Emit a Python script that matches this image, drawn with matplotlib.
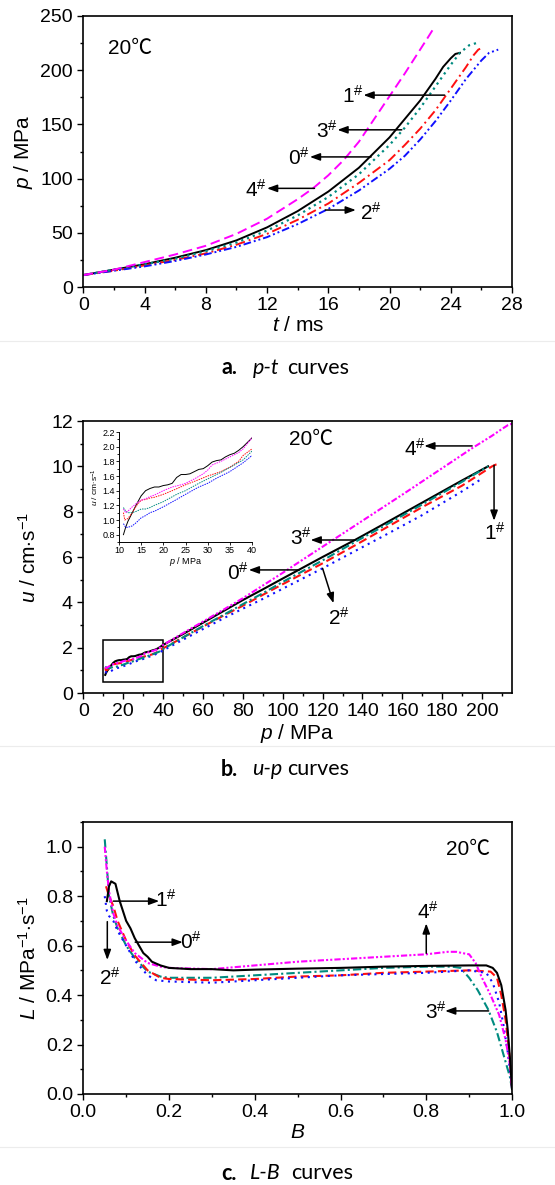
import matplotlib
matplotlib.use('Agg')
import matplotlib.pyplot as plt
from matplotlib.patches import Rectangle
from matplotlib.ticker import MultipleLocator

plt.rcParams['font.family'] = ['Liberation Sans Narrow', 'Liberation Sans', 'DejaVu Sans']
plt.rcParams['mathtext.fontset'] = 'custom'
plt.rcParams['mathtext.rm'] = 'Liberation Sans'
plt.rcParams['mathtext.it'] = 'Liberation Sans:italic'
plt.rcParams['mathtext.bf'] = 'Liberation Sans:bold'

# ---------------- data: panel a (p-t) ----------------
t_a0 = [0, 2, 4, 6, 8, 10, 12, 14, 16, 18, 20, 22, 23, 23.5, 24, 24.3, 24.6]
p_a0 = [11, 16, 21, 27, 34, 43, 55, 70, 88, 110, 138, 172, 192, 203, 211, 215, 216]
t_a1 = [0, 2, 4, 6, 8, 10, 12, 14, 16, 18, 20, 21, 22, 23, 24, 25, 25.5, 25.8, 26.1]
p_a1 = [11, 15, 20, 25, 31, 39, 49, 62, 77, 96, 117, 131, 146, 163, 183, 203, 214, 219, 221]
t_a2 = [0, 2, 4, 6, 8, 10, 12, 14, 16, 18, 20, 21, 22, 23, 24, 25, 26, 26.5, 27.1]
p_a2 = [11, 15, 19, 24, 30, 37, 46, 58, 72, 89, 109, 121, 136, 153, 172, 192, 209, 216, 219]
t_a3 = [0, 2, 4, 6, 8, 10, 12, 14, 16, 18, 20, 21, 22, 23, 24, 24.6, 25.2, 25.9]
p_a3 = [11, 16, 21, 26, 33, 41, 52, 66, 83, 104, 131, 147, 165, 185, 205, 216, 223, 226]
t_a4 = [0, 2, 4, 6, 8, 10, 12, 14, 15, 16, 17, 18, 19, 20, 21, 22, 22.5, 22.9]
p_a4 = [11, 16, 23, 30, 38, 49, 63, 81, 91, 103, 117, 134, 155, 176, 197, 219, 230, 239]

# ---------------- data: panel b (u-p) ----------------
p_b0 = [11, 11.5, 12, 13, 14, 15, 16, 17, 18, 19, 20, 21, 22, 23, 24, 25, 26, 27, 28, 29, 30,
        31, 32, 33, 34, 35, 36, 37, 38, 39, 40, 50, 60, 70, 80, 90, 100, 108, 120, 136, 150,
        170, 190, 203]
u_b0 = [0.8, 0.9, 0.98, 1.1, 1.22, 1.33, 1.4, 1.43, 1.45, 1.45, 1.47, 1.48, 1.5, 1.58, 1.62,
        1.62, 1.63, 1.66, 1.69, 1.7, 1.74, 1.79, 1.81, 1.82, 1.86, 1.89, 1.91, 1.95, 2.0, 2.06,
        2.12, 2.6, 3.1, 3.6, 4.1, 4.57, 5.05, 5.43, 6.0, 6.74, 7.42, 8.4, 9.38, 10.0]
p_b1 = [11, 11.3, 12, 13, 14, 15, 16, 17, 18, 20, 22, 25, 28, 30, 33, 35, 37, 38, 40, 50, 60,
        70, 80, 90, 100, 120, 136, 150, 170, 190, 202, 205, 207, 208]
u_b1 = [1.1, 1.0, 1.02, 1.1, 1.2, 1.27, 1.28, 1.3, 1.31, 1.35, 1.4, 1.48, 1.55, 1.6, 1.66,
        1.72, 1.8, 1.88, 1.97, 2.45, 2.93, 3.4, 3.85, 4.33, 4.8, 5.72, 6.5, 7.2, 8.2, 9.15,
        9.83, 10.0, 10.08, 10.1]
p_b2 = [11, 11.5, 12, 13, 14, 15, 16, 17, 18, 20, 23, 25, 28, 30, 32, 35, 38, 40, 50, 60, 70,
        80, 90, 100, 120, 136, 150, 170, 190, 200]
u_b2 = [0.95, 0.9, 0.9, 0.92, 0.97, 1.03, 1.06, 1.1, 1.12, 1.18, 1.28, 1.35, 1.45, 1.5, 1.57,
        1.66, 1.78, 1.88, 2.35, 2.82, 3.28, 3.72, 4.15, 4.6, 5.5, 6.25, 6.9, 7.85, 8.9, 9.46]
p_b3 = [11, 11.5, 12, 13, 14, 15, 16, 17, 18, 20, 23, 25, 28, 30, 33, 36, 38, 40, 50, 60, 70,
        80, 90, 100, 120, 136, 150, 170, 190, 203]
u_b3 = [1.17, 1.12, 1.1, 1.1, 1.12, 1.15, 1.15, 1.17, 1.2, 1.25, 1.35, 1.4, 1.5, 1.56, 1.65,
        1.75, 1.82, 1.94, 2.45, 2.95, 3.43, 3.92, 4.4, 4.9, 5.85, 6.65, 7.33, 8.32, 9.32, 10.0]
p_b4 = [11, 11.5, 12, 13, 14, 15, 16, 17, 18, 20, 22, 24, 25, 27, 29, 30, 31, 33, 35, 37, 38,
        40, 50, 60, 70, 80, 90, 100, 110, 125, 140, 160, 180, 195, 205, 210, 213, 215]
u_b4 = [1.15, 1.1, 1.12, 1.18, 1.23, 1.27, 1.29, 1.32, 1.34, 1.4, 1.45, 1.48, 1.5, 1.56, 1.63,
        1.68, 1.75, 1.8, 1.86, 1.92, 1.97, 2.12, 2.64, 3.15, 3.66, 4.18, 4.74, 5.3, 5.88, 6.74,
        7.6, 8.75, 9.92, 10.8, 11.35, 11.65, 11.82, 11.88]

# ---------------- data: panel c (L-B) ----------------
B_c0 = [0.055, 0.06, 0.065, 0.075, 0.085, 0.1, 0.11, 0.12, 0.13, 0.14, 0.15, 0.16, 0.18, 0.2,
        0.25, 0.3, 0.35, 0.4, 0.5, 0.6, 0.7, 0.8, 0.9, 0.94, 0.955, 0.965, 0.975, 0.985, 0.99,
        0.995, 1.0]
L_c0 = [0.78, 0.84, 0.86, 0.85, 0.78, 0.70, 0.67, 0.63, 0.60, 0.57, 0.555, 0.535, 0.52, 0.51,
        0.505, 0.505, 0.50, 0.503, 0.507, 0.51, 0.515, 0.518, 0.52, 0.52, 0.51, 0.49, 0.44,
        0.34, 0.26, 0.15, 0.02]
B_c1 = [0.053, 0.06, 0.07, 0.08, 0.1, 0.12, 0.15, 0.18, 0.2, 0.3, 0.4, 0.5, 0.6, 0.7, 0.8,
        0.9, 0.95, 0.965, 0.975, 0.985, 0.993, 1.0]
L_c1 = [0.84, 0.8, 0.76, 0.7, 0.62, 0.56, 0.5, 0.47, 0.465, 0.46, 0.465, 0.475, 0.48, 0.49,
        0.495, 0.5, 0.495, 0.47, 0.4, 0.3, 0.18, 0.02]
B_c2 = [0.05, 0.055, 0.06, 0.07, 0.08, 0.1, 0.12, 0.15, 0.17, 0.2, 0.3, 0.4, 0.5, 0.6, 0.7,
        0.8, 0.9, 0.94, 0.955, 0.97, 0.98, 0.99, 1.0]
L_c2 = [0.8, 0.74, 0.72, 0.7, 0.66, 0.6, 0.54, 0.48, 0.46, 0.455, 0.45, 0.46, 0.47, 0.48,
        0.485, 0.49, 0.5, 0.49, 0.45, 0.37, 0.28, 0.17, 0.03]
B_c3 = [0.05, 0.055, 0.06, 0.07, 0.08, 0.1, 0.12, 0.15, 0.18, 0.2, 0.3, 0.4, 0.5, 0.6, 0.7,
        0.8, 0.86, 0.88, 0.9, 0.92, 0.945, 0.965, 0.98, 0.995, 1.0]
L_c3 = [1.03, 0.92, 0.8, 0.72, 0.67, 0.6, 0.55, 0.495, 0.475, 0.47, 0.47, 0.48, 0.49, 0.5,
        0.51, 0.515, 0.515, 0.51, 0.47, 0.42, 0.34, 0.25, 0.16, 0.07, 0.02]
B_c4 = [0.05, 0.055, 0.06, 0.07, 0.08, 0.1, 0.12, 0.15, 0.18, 0.2, 0.3, 0.4, 0.5, 0.6, 0.7,
        0.8, 0.85, 0.87, 0.89, 0.9, 0.915, 0.93, 0.95, 0.97, 0.985, 0.995, 1.0]
L_c4 = [1.0, 0.9, 0.82, 0.73, 0.68, 0.62, 0.57, 0.53, 0.515, 0.51, 0.505, 0.52, 0.535, 0.545,
        0.555, 0.565, 0.575, 0.575, 0.568, 0.565, 0.53, 0.47, 0.40, 0.32, 0.22, 0.12, 0.02]

temp_label = '20\u2103'
cap_letters = ['a.', 'b.', 'c.']
cap_vars = ['p-t', 'u-p', 'L-B']
cap_word = 'curves'

BLACK, RED, BLUE, TEAL, MAG = 'black', '#ff1010', '#1010ff', '#008b80', '#ff00ff'

fig = plt.figure(figsize=(5.55, 11.85), dpi=100)
TFONT = ['Liberation Sans Narrow', 'Liberation Sans', 'Noto Sans CJK SC', 'DejaVu Sans']

def style_axes(ax, fs=14):
    for s in ax.spines.values():
        s.set_linewidth(1.2)
    ax.tick_params(which='both', direction='out', top=False, right=False, labelsize=fs, width=1.0)
    ax.tick_params(which='major', length=4)
    ax.tick_params(which='minor', length=2.5)

def arrow(ax, head, tail):
    ax.annotate('', xy=head, xytext=tail,
                arrowprops=dict(arrowstyle='-|>,head_length=0.6,head_width=0.22', color='black', lw=1.1,
                                shrinkA=0, shrinkB=0))

def lab(ax, x, y, d):
    ax.text(x, y, d + r'$^{\#}$', fontsize=15, ha='center', va='center')

L = 83.3 / 555
W = (512 - 83.3) / 555
def fy(top, bot):
    return 1 - bot / 1185, (bot - top) / 1185

# ---- panel a ----
y0, h = fy(16, 287)
ax = fig.add_axes([L, y0, W, h])
ax.plot(t_a0, p_a0, color=BLACK, lw=1.4, ls='-')
ax.plot(t_a1, p_a1, color=RED, lw=1.4, ls=(0, (5, 2, 1, 2)))
ax.plot(t_a2, p_a2, color=BLUE, lw=1.4, ls=(0, (4, 1.5, 1, 1.5, 1, 1.5)))
ax.plot(t_a3, p_a3, color=TEAL, lw=1.6, ls=(0, (1, 1.8)))
ax.plot(t_a4, p_a4, color=MAG, lw=1.4, ls=(0, (5, 2.5)))
ax.set_xlim(0, 28)
ax.set_ylim(0, 250)
ax.xaxis.set_major_locator(MultipleLocator(4))
ax.xaxis.set_minor_locator(MultipleLocator(2))
ax.yaxis.set_major_locator(MultipleLocator(50))
ax.yaxis.set_minor_locator(MultipleLocator(25))
style_axes(ax)
ax.set_xlabel(r'$t$ / ms', fontsize=15, labelpad=1)
ax.set_ylabel(r'$p$ / MPa', fontsize=15, labelpad=4)
ax.text(1.6, 220, temp_label, fontsize=15, va='center', family=TFONT)
arrow(ax, (18.3, 177), (23.6, 177)); lab(ax, 17.6, 176, '1')
arrow(ax, (16.6, 145), (20.8, 145)); lab(ax, 15.9, 144, '3')
arrow(ax, (14.8, 120), (18.8, 120)); lab(ax, 14.1, 119, '0')
arrow(ax, (12.0, 91), (15.1, 91)); lab(ax, 11.3, 90, '4')
arrow(ax, (17.8, 71), (15.8, 71)); lab(ax, 18.8, 68, '2')

# ---- panel b ----
y0, h = fy(421, 693)
ax = fig.add_axes([L, y0, W, h])
sty_b = [(p_b0, u_b0, BLACK, '-'), (p_b1, u_b1, RED, (0, (4, 2))),
         (p_b2, u_b2, BLUE, (0, (1, 2.2))), (p_b3, u_b3, TEAL, (0, (4, 1.5, 1, 1.5))),
         (p_b4, u_b4, MAG, (0, (3, 1, 1, 1, 1, 1)))]
for px, uy, c, ls in sty_b:
    ax.plot(px, uy, color=c, lw=1.5, ls=ls)
ax.set_xlim(0, 215)
ax.set_ylim(0, 12)
ax.xaxis.set_major_locator(MultipleLocator(20))
ax.xaxis.set_minor_locator(MultipleLocator(10))
ax.yaxis.set_major_locator(MultipleLocator(2))
ax.yaxis.set_minor_locator(MultipleLocator(1))
style_axes(ax)
ax.set_xlabel(r'$p$ / MPa', fontsize=15, labelpad=1)
ax.set_ylabel(r'$u$ / cm$\cdot$s$^{-1}$', fontsize=15, labelpad=8)
ax.text(103, 11.2, temp_label, fontsize=15, va='center', family=TFONT)
ax.add_patch(Rectangle((10, 0.5), 30, 1.85, fill=False, ec='black', lw=1.1))
arrow(ax, (171, 10.9), (195, 10.9)); lab(ax, 166.5, 10.75, '4')
arrow(ax, (206, 7.6), (206, 10.05)); lab(ax, 206.5, 7.05, '1')
arrow(ax, (114, 6.75), (136.4, 6.75)); lab(ax, 109, 6.85, '3')
arrow(ax, (83, 5.43), (108.3, 5.43)); lab(ax, 77.5, 5.3, '0')
arrow(ax, (125.5, 3.96), (120, 5.5)); lab(ax, 128, 3.3, '2')

# inset
axi = fig.add_axes([119 / 555, 1 - 542 / 1185, (252 - 119) / 555, 110 / 1185])
for px, uy, c, ls in sty_b:
    axi.plot(px, uy, color=c, lw=0.7, ls='-' if c == BLACK else (0, (1.5, 1)))
axi.set_xlim(10, 40)
axi.set_ylim(0.7, 2.2)
axi.xaxis.set_major_locator(MultipleLocator(5))
axi.yaxis.set_major_locator(MultipleLocator(0.2))
axi.yaxis.set_minor_locator(MultipleLocator(0.1))
axi.spines['top'].set_visible(False)
axi.spines['right'].set_visible(False)
for s in ('left', 'bottom'):
    axi.spines[s].set_linewidth(0.7)
axi.tick_params(which='both', direction='out', labelsize=6.5, width=0.6, pad=1)
axi.tick_params(which='major', length=2)
axi.tick_params(which='minor', length=1.2)
axi.set_xlabel(r'$p$ / MPa', fontsize=6.5, labelpad=0)
axi.set_ylabel(r'$u$ / cm$\cdot$s$^{-1}$', fontsize=6, labelpad=1)
axi.patch.set_alpha(0)

# ---- panel c ----
y0, h = fy(822, 1094)
ax = fig.add_axes([L, y0, W, h])
ax.plot(B_c3, L_c3, color=TEAL, lw=1.5, ls=(0, (4, 1.5, 1, 1.5)))
ax.plot(B_c1, L_c1, color=RED, lw=1.5, ls=(0, (4, 2)))
ax.plot(B_c2, L_c2, color=BLUE, lw=1.5, ls=(0, (1, 2.2)))
ax.plot(B_c4, L_c4, color=MAG, lw=1.5, ls=(0, (3, 1, 1, 1, 1, 1)))
ax.plot(B_c0, L_c0, color=BLACK, lw=1.5, ls='-')
ax.set_xlim(0, 1.0)
ax.set_ylim(0, 1.1)
ax.xaxis.set_major_locator(MultipleLocator(0.2))
ax.xaxis.set_minor_locator(MultipleLocator(0.1))
ax.yaxis.set_major_locator(MultipleLocator(0.2))
ax.yaxis.set_minor_locator(MultipleLocator(0.1))
ax.xaxis.set_major_formatter(plt.FuncFormatter(lambda v, p: f'{v:.1f}'))
ax.yaxis.set_major_formatter(plt.FuncFormatter(lambda v, p: f'{v:.1f}'))
style_axes(ax)
ax.set_xlabel(r'$B$', fontsize=15, labelpad=1)
ax.set_ylabel(r'$L$ / MPa$^{-1}$$\cdot$s$^{-1}$', fontsize=15, labelpad=4)
ax.text(0.845, 0.99, temp_label, fontsize=15, va='center', family=TFONT)
arrow(ax, (0.177, 0.78), (0.07, 0.78)); lab(ax, 0.192, 0.785, '1')
arrow(ax, (0.232, 0.614), (0.121, 0.614)); lab(ax, 0.25, 0.614, '0')
arrow(ax, (0.056, 0.542), (0.056, 0.697)); lab(ax, 0.063, 0.468, '2')
arrow(ax, (0.8, 0.69), (0.8, 0.569)); lab(ax, 0.803, 0.738, '4')
arrow(ax, (0.844, 0.336), (0.9455, 0.336)); lab(ax, 0.823, 0.331, '3')

# captions and separators
cap_y = [368, 769, 1173]
cap_x = [(222, 253, 287), (221, 252, 287), (221, 250, 291)]
CFONT = ['Lato', 'Open Sans', 'DejaVu Sans']
for lt, it, yy, (x1, x2, x3) in zip(cap_letters, cap_vars, cap_y, cap_x):
    yf = 1 - yy / 1185
    fig.text(x1 / 555, yf, lt, fontsize=15.5, fontweight='bold', family=CFONT, va='center', ha='left')
    fig.text(x2 / 555, yf, it, fontsize=15.5, style='italic', family=CFONT, va='center', ha='left')
    fig.text(x3 / 555, yf, cap_word, fontsize=15.5, family=CFONT, va='center', ha='left')
for yy in [341, 746, 1147]:
    fig.add_artist(plt.Line2D([0, 1], [1 - yy / 1185] * 2, color='#ececec', lw=0.8))

fig.savefig('out.png', dpi=100)
